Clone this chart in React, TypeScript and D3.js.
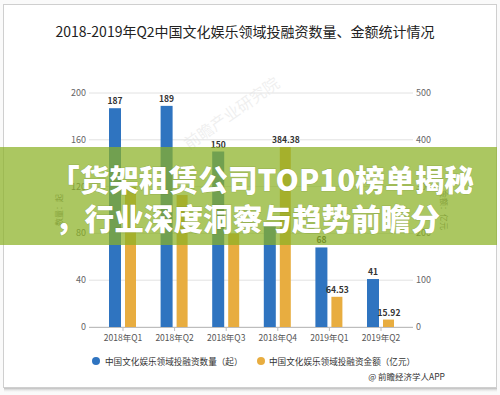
import React from "react";
import * as d3 from "d3";

const categories = ["2018年Q1", "2018年Q2", "2018年Q3", "2018年Q4", "2019年Q1", "2019年Q2"];
const countValues = [187, 189, 150, 89, 68, 41];
const amountValues = [299, 282, 200, 384.38, 64.53, 15.92];
const amountLabels = ["", "", "", "384.38", "64.53", "15.92"];
const countLabels = ["187", "189", "150", "", "68", "41"];
const leftTicks = [0, 40, 80, 120, 160, 200];
const rightTicks = [0, 100, 200, 300, 400, 500];
const seriesNames = ["中国文化娱乐领域投融资数量（起）", "中国文化娱乐领域投融资金额（亿元）"];
const title = "2018-2019年Q2中国文化娱乐领域投融资数量、金额统计情况";
const bannerLines = ["「货架租赁公司TOP10榜单揭秘", "，行业深度洞察与趋势前瞻分"];
const source = "@ 前瞻经济学人APP";

const BLUE = "#2f74c0";
const YELLOW = "#e8ad40";
const FONT = "'Noto Sans CJK SC', 'Noto Sans', sans-serif";

export default function App() {
  const x = d3.scaleBand<string>().domain(categories).range([97.2, 406.8]);
  const sub = d3.scaleBand<string>().domain(["count", "amount"]).range([-14, 14]).paddingInner(0.25);
  const yL = d3.scaleLinear().domain([0, 200]).range([327, 93]);
  const yR = d3.scaleLinear().domain([0, 500]).range([327, 93]);
  const cx = (c: string) => (x(c) as number) + x.bandwidth() / 2;

  const bannerX = [50, 55];
  const bannerLen = [424, 385];

  return (
    <svg width={500} height={395} style={{ position: "absolute", left: 0, top: 0, background: "#fff" }} fontFamily={FONT}>
      <defs>
        <linearGradient id="shadow" x1="0" y1="0" x2="0" y2="1">
          <stop offset="0" stopColor="#888" stopOpacity={0.8} />
          <stop offset="1" stopColor="#fff" stopOpacity={0} />
        </linearGradient>
      </defs>
      <rect x={0} y={0} width={500} height={395} fill="#fafafa" />
      <rect x={4} y={387} width={493} height={6} fill="url(#shadow)" />
      <rect x={3.5} y={4.5} width={493} height={383} fill="#fff" stroke="#cfcfcf" />
      <text x={245} y={37} textAnchor="middle" fontSize={14} fill="#222">{title}</text>

      {/* watermark */}
      <text x={235} y={118} textAnchor="middle" fontSize={16} fill="#000" opacity={0.06}
        transform="rotate(-35 235 118)">前瞻产业研究院</text>

      {/* grid */}
      {leftTicks.map((t) => (
        <line key={"g" + t} x1={89} x2={413} y1={yL(t)} y2={yL(t)} stroke="#e2e2e2" />
      ))}
      {leftTicks.map((t) => (
        <text key={"l" + t} x={86} y={yL(t) + 3} textAnchor="end" fontSize={9} fill="#666">{t}</text>
      ))}
      {rightTicks.map((t) => (
        <text key={"r" + t} x={416} y={yR(t) + 3} textAnchor="start" fontSize={9} fill="#666">{t}</text>
      ))}
      <text transform={`translate(62,210) rotate(-90)`} textAnchor="middle" fontSize={8} fill="#777">数量：起</text>
      <text transform={`translate(441,210) rotate(90)`} textAnchor="middle" fontSize={8} fill="#777">金额：亿元</text>

      {/* axis */}
      <line x1={89} x2={413} y1={327.5} y2={327.5} stroke="#bdbdbd" />
      {categories.map((c) => (
        <line key={"t" + c} x1={cx(c)} x2={cx(c)} y1={327} y2={331} stroke="#bdbdbd" />
      ))}
      {categories.map((c) => (
        <text key={"x" + c} x={cx(c)} y={341} textAnchor="middle" fontSize={8.5} fill="#555">{c}</text>
      ))}

      {/* bars */}
      {categories.map((c, i) => (
        <g key={"b" + c}>
          <rect x={cx(c) + (sub("count") as number)} width={sub.bandwidth()} y={yL(countValues[i])}
            height={327 - yL(countValues[i])} fill={BLUE} />
          <rect x={cx(c) + (sub("amount") as number)} width={sub.bandwidth() - 1} y={yR(amountValues[i])}
            height={327 - yR(amountValues[i])} fill={YELLOW} />
          {countLabels[i] && (
            <text x={cx(c) + (sub("count") as number) + sub.bandwidth() / 2} y={yL(countValues[i]) - 4}
              textAnchor="middle" fontSize={8.5} fontWeight="bold" fill="#333">{countLabels[i]}</text>
          )}
          {amountLabels[i] && (
            <text x={cx(c) + (sub("amount") as number) + sub.bandwidth() / 2} y={yR(amountValues[i]) - 4}
              textAnchor="middle" fontSize={8.5} fontWeight="bold" fill="#333">{amountLabels[i]}</text>
          )}
        </g>
      ))}

      {/* legend */}
      <circle cx={96} cy={361} r={4} fill={BLUE} />
      <text x={105} y={364.5} fontSize={8.6} fill="#333">{seriesNames[0]}</text>
      <circle cx={261} cy={361} r={4} fill={YELLOW} />
      <text x={269} y={364.5} fontSize={8.6} fill="#333">{seriesNames[1]}</text>
      <text x={445} y={380} textAnchor="end" fontSize={8.5} fill="#333">{source}</text>

      {/* banner overlay */}
      <rect x={0} y={147} width={497} height={98} fill="rgb(138,178,36)" opacity={0.72} />
      {bannerLines.map((s, i) => (
        <text key={"bn" + i} x={bannerX[i]} y={191 + i * 39} fontSize={30} fontWeight={900} fill="#fff"
          textLength={bannerLen[i]} lengthAdjust="spacingAndGlyphs"
          style={{ paintOrder: "stroke" }} stroke="rgba(90,110,30,0.25)" strokeWidth={1}>{s}</text>
      ))}
    </svg>
  );
}
